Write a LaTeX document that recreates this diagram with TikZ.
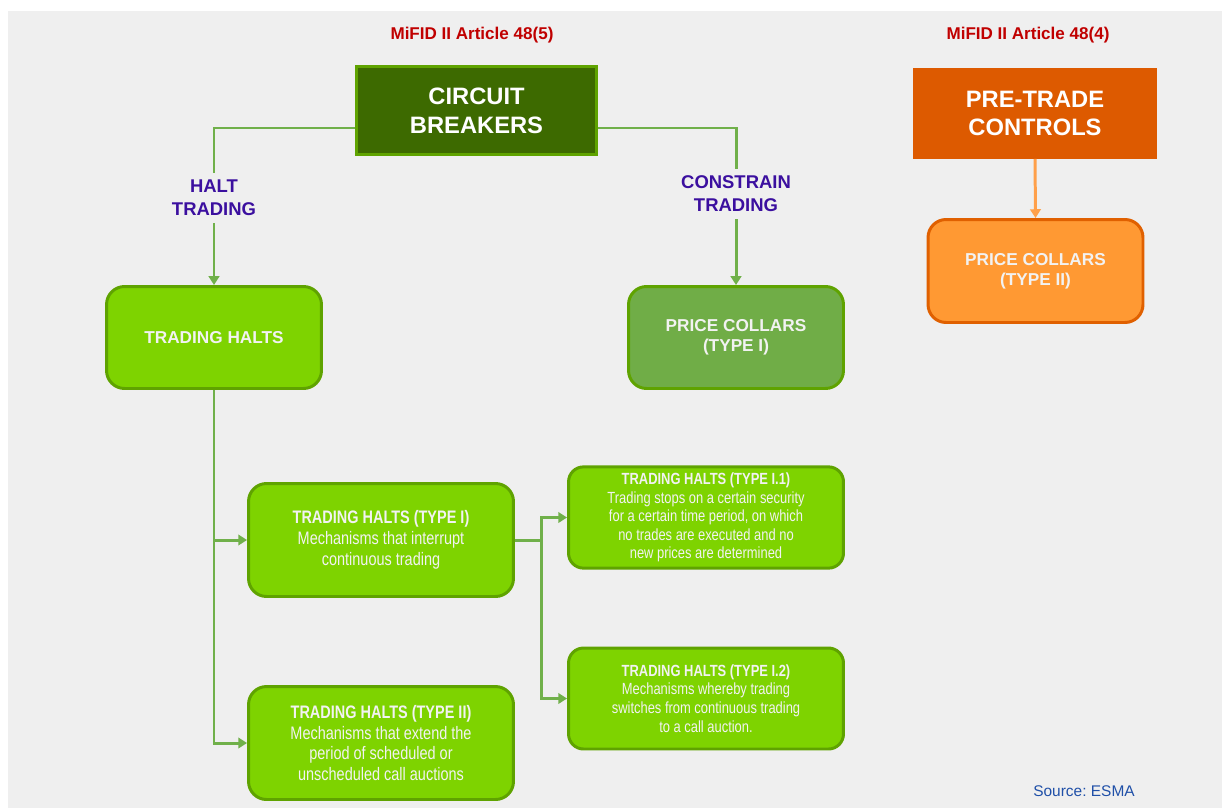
\documentclass[tikz,border=0pt]{standalone}
\usepackage{fontspec}
\setmainfont{Liberation Sans}
\newfontfamily\narrowfont[FakeStretch=0.8]{Liberation Sans}
\usetikzlibrary{positioning,arrows.meta}
\frenchspacing

\definecolor{bggray}{HTML}{EFEFEF}
\definecolor{darkgreen}{HTML}{3D6A00}
\definecolor{edgegreen}{HTML}{5FA300}
\definecolor{limegreen}{HTML}{7ED300}
\definecolor{collargreen}{HTML}{70AD47}
\definecolor{linegreen}{HTML}{70B04A}
\definecolor{darkorange}{HTML}{DD5A00}
\definecolor{edgeorange}{HTML}{E06000}
\definecolor{lightorange}{HTML}{FF9933}
\definecolor{arroworange}{HTML}{FFA04A}
\definecolor{titlered}{HTML}{C00000}
\definecolor{branchviolet}{HTML}{3B0F9F}
\definecolor{sourceblue}{HTML}{2050A8}
\definecolor{boxtext}{HTML}{F2F2F2}

\begin{document}
\begin{tikzpicture}
  [
    x = 0.02cm, y = -0.02cm,
    article/.style = {text = titlered, font = \fontsize{9.7}{11}\selectfont\bfseries},
    bigbox/.style = {minimum width = 4.8cm, minimum height = 1.76cm, line width = 1.7pt,
        text = white, align = center, font = \fontsize{13.5}{16.4}\selectfont\bfseries},
    branch/.style = {text = branchviolet, align = center, inner sep = 4pt,
        font = \fontsize{10.5}{13}\selectfont\bfseries},
    roundbox/.style = {draw = edgegreen, fill = limegreen, line width = 1.7pt,
        rounded corners = 0.36cm, text = boxtext, align = center},
    plainbox/.style = {roundbox, minimum width = 4.3cm, minimum height = 2.04cm,
        font = \fontsize{9.8}{11.6}\selectfont\bfseries},
    typebox/.style = {roundbox, minimum width = 5.3cm, minimum height = 2.26cm,
        font = \fontsize{10.3}{11.9}\selectfont\narrowfont},
    subbox/.style = {roundbox, minimum width = 5.5cm, minimum height = 2.02cm,
        rounded corners = 0.3cm, font = \fontsize{9.2}{10.6}\selectfont\narrowfont},
    link/.style = {draw = linegreen, line width = 1.7pt},
    tip/.style = {-{Triangle[length = 5pt, width = 6pt]}},
  ]

  \useasboundingbox (0,0) rectangle (1222,808);
  \fill[bggray] (8,11) rectangle (1222,808);

  % circuit breakers side
  \node[article] (art5) at (472,35) {MiFID II Article 48(5)};
  \node[bigbox, draw = edgegreen, fill = darkgreen] (breakers) at (476.5,110.5) {CIRCUIT\\BREAKERS};

  \node[branch] (halt) at (214,198) {HALT\\TRADING};
  \node[branch] (constrain) at (736,194) {CONSTRAIN\\TRADING};

  \node[plainbox] (halts) at (214,337.5) {TRADING HALTS};
  \node[plainbox, fill = collargreen] (collarsone) at (736,337.5) {PRICE COLLARS\\(TYPE I)};

  \node[typebox] (typeone) at (381,540)
    {{\bfseries TRADING HALTS (TYPE I)}\\Mechanisms that interrupt\\continuous trading};
  \node[typebox] (typetwo) at (381,743)
    {{\bfseries TRADING HALTS (TYPE II)}\\Mechanisms that extend the\\period of scheduled or\\unscheduled call auctions};

  \node[subbox] (subone) at (706,517.5)
    {{\bfseries TRADING HALTS (TYPE I.1)}\\Trading stops on a certain security\\for a certain time period, on which\\no trades are executed and no\\new prices are determined};
  \node[subbox] (subtwo) at (706,698.5)
    {{\bfseries TRADING HALTS (TYPE I.2)}\\Mechanisms whereby trading\\switches from continuous trading\\to a call auction.};

  \draw[link] ([yshift = -0.35cm]breakers.west) -| (halt.north);
  \draw[link] ([yshift = -0.35cm]breakers.east) -| (constrain.north);
  \draw[link, tip] (halt.south) -- (halts.north);
  \draw[link, tip] (constrain.south) -- (collarsone.north);

  \foreach \t in {typeone,typetwo}{
      \draw[link, tip] (halts.south) |- (\t.west);
    }

  \coordinate (fork) at (541,540);
  \draw[link] (typeone.east) -- (fork);
  \foreach \t in {subone,subtwo}{
      \draw[link, tip] (fork) |- (\t.west);
    }

  % pre-trade controls side
  \node[article] (art4) at (1028,35) {MiFID II Article 48(4)};
  \node[bigbox, fill = darkorange, minimum width = 4.88cm, minimum height = 1.82cm,
    line width = 0pt] (pretrade) at (1035,113.5) {PRE-TRADE\\CONTROLS};
  \node[plainbox, draw = edgeorange, fill = lightorange, minimum height = 2.06cm] (collarstwo) at (1035.5,271)
    {PRICE COLLARS\\(TYPE II)};
  \draw[draw = arroworange, line width = 1.7pt, tip] (pretrade.south) -- (collarstwo.north);

  \node[text = sourceblue, font = \fontsize{8.8}{10}\selectfont] (source) at (1084,791) {Source: ESMA};

\end{tikzpicture}
\end{document}
